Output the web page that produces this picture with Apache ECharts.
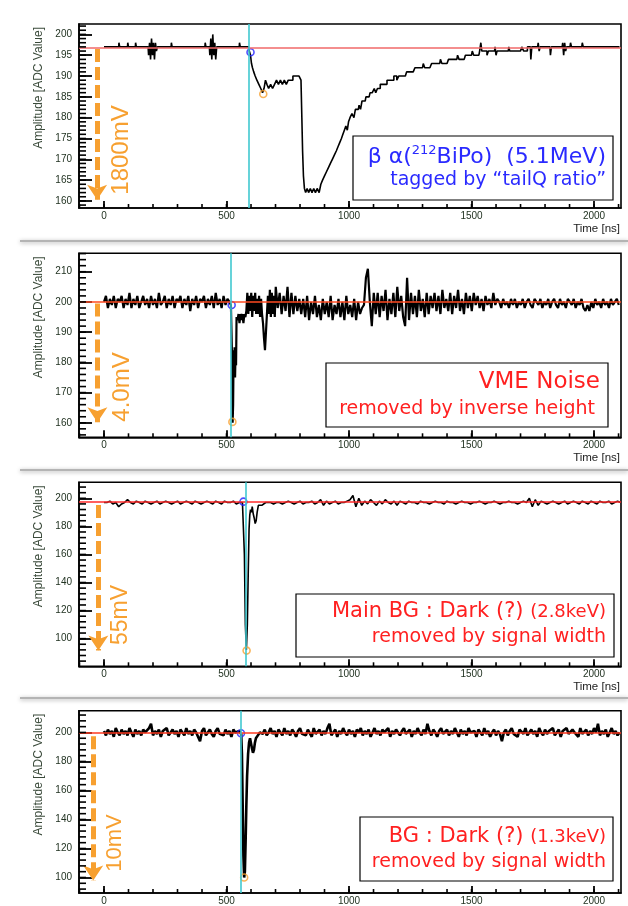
<!DOCTYPE html>
<html><head><meta charset="utf-8">
<script src="https://cdn.jsdelivr.net/npm/echarts@6/dist/echarts.min.js"></script>
<style>html,body{margin:0;padding:0;background:#fff}#c{width:628px;height:906px}</style>
</head><body><div id="c"></div>
<script>
// ---------- axes / ticks ----------
const xMin = -102, xMax = 2110;
const xMajorTicks = [0, 500, 1000, 1500, 2000];
const yRanges = [[158.3, 202.5], [155.2, 216.1], [80.3, 211.4], [89.3, 215]];
const yMajorTicks = [
  [160, 165, 170, 175, 180, 185, 190, 195, 200],
  [160, 170, 180, 190, 200, 210],
  [100, 120, 140, 160, 180, 200],
  [100, 120, 140, 160, 180, 200]
];
const yMinorStep = [1, 2, 4, 4];

// ---------- reference lines / markers ----------
const baseline = [196.7, 200, 197.2, 200];
const triggerTime = [589, 517, 578, 558];
const startMarker = [[598, 195.7], [521, 199], [569, 197.6], [559, 199.5]];
const peakMarker = [[650, 185.7], [524, 160.3], [582, 91.5], [572, 100]];
const arrowTime = [-28, -27, -23, -44];
const arrowFrom = [196.5, 199.5, 195.2, 197.3];
const arrowTo = [160.3, 160.2, 91.5, 98];
const arrowLabel = ['1800mV', '4.0mV', '55mV', '10mV'];

// ---------- waveform 1 (BiPo) ----------
const wave1 = [
[0,197],[60,197],[62,198],[66,197],[96,197],[98,198],[102,197],[128,197],[130,198],[134,197],
[180,197],[184,195],[188,198],[192,194],[196,199],[200,195],[204,198],[208,194],[212,198],[216,196],[220,197],
[274,197],[276,198],[280,197],[412,197],[414,198],[418,197],
[430,197],[434,195],[438,199],[442,194],[446,200],[450,195],[454,198],[458,194],[462,197],
[552,197],[554,198],[558,197],
[590,197],[596,196],[600,195],[604,193],[608,192],[614,191],[620,190],[628,189],[636,188],[644,187],[650,186],[656,187],[662,189],[668,188],[676,187],[684,188],[692,187],[700,188],[708,189],[716,188],[724,189],[732,188],[740,189],[748,188],[756,189],[766,189],[776,190],[790,190],[802,190],[806,189],[809,180],[812,172],[816,166],[820,163],[826,162],[832,163],[838,162],[846,163],[852,162],[860,163],[866,162],[874,163],[882,162],
[888,164],[896,165],[904,166],[912,167],[920,168],[928,169],[936,170],[944,171],[952,172],[958,173],[966,174],[972,175],[978,176],[984,177],[990,178],[996,177],[1000,179],[1008,180],[1016,181],[1024,180],[1028,182],[1038,182],[1044,183],[1050,182],[1056,184],[1066,184],[1072,185],[1082,185],[1090,186],[1100,186],[1106,187],[1112,186],[1120,187],[1135,188],[1150,188],[1160,189],[1176,189],[1190,190],[1200,189],[1206,190],[1230,190],[1240,191],[1262,191],[1276,192],[1300,192],[1306,193],[1312,192],[1330,192],[1344,193],[1370,193],[1376,194],[1382,193],[1400,193],[1412,194],[1440,194],[1446,195],[1452,194],[1470,194],[1480,195],[1500,195],[1506,196],[1512,195],[1530,195],[1536,196],[1540,198],[1544,196],[1560,196],[1566,195],[1572,196],[1594,196],[1598,197],[1602,195],[1606,196],[1650,196],[1654,197],[1658,196],[1700,196],[1710,197],[1716,196],[1740,197],[1744,194],[1748,197],[1770,197],[1774,198],[1778,196],[1782,197],[1820,197],[1824,195],[1828,197],[1870,197],[1874,198],[1878,195],[1882,198],[1886,196],[1890,197],[1902,197],[1906,198],[1910,197],[1950,197],[1954,198],[1958,197],[2104,197]
];

// ---------- waveform 2 (VME noise) ----------
const wave2NoiseAStart = 0, wave2NoiseAStep = 8;
const wave2NoiseA = [
200,202,198,201,199,202,198,201,200,202,198,201,199,203,198,201,199,202,198,200,
202,199,201,198,202,199,201,198,203,199,200,202,198,201,199,202,198,201,200,202,
198,201,199,202,197,201,199,202,198,201,200,202,198,201,199,202,198,203,199,201,
198,202,199,201,200];
const wave2Pulse = [[516,200],[518,199],[521,199],[523,180],[525,160],[527,166],[529,184],[531,176],[533,185],[535,175],[537,184],[539,179],[541,195],[545,194],[549,196],[553,193],[557,196],[561,194],[565,196],[569,193],[573,196],[577,195],[581,197],[585,203],[589,196],[593,202],[597,197],[601,203],[605,195],[609,202],[613,197],[617,203],[621,196],[625,201],[629,196],[633,202],[637,195],[641,201],[645,196],[649,193],[653,188],[657,184],[661,190],[665,196],[669,202],[673,196],[677,204],[681,195],[685,203],[689,196],[693,202],[697,195],[701,205]];
const wave2NoiseBStart = 709, wave2NoiseBStep = 8;
const wave2NoiseB = [
198,203,196,202,197,205,195,203,196,202,197,201,
196,201,195,202,194,200,196,202,195,199,194,201,196,200,195,202,194,199,196,201,195,200,194,202,196,199,195,201,194,200,196,198,
199,208,211,200,192,203,
196,203,195,202,197,204,194,201,196,203,195,205,197,202,195,192,208,194,203,196,202,195,204,197,201,195,203,196,202,
198,203,197,202,196,204,198,201,197,203,196,202,198,204,197,201,196,203,198,202,197,203,
199,202,198,201,197,202,199,201,198,203,199,201,
200,198,201,199,200,198,201,199,201,198,200,199,201,198,200,201,199,198,201,200,199,201,198,200,199,201,198,200,201,199,
198,201,199,200,198,201,200,199,201,198,200,199,201,198,197,199,197,200,198,201,199,200,198,201,199,200,198,201,199,200,201,199];

// ---------- waveform 3 (Main BG dark) ----------
const wave3NoiseAStart = 0, wave3NoiseAStep = 12;
const wave3NoiseA = [197,197,198,196,197,194,196,197,199,197,196,198,197,196,198,197,196,197,198,196,197,198,197,196,197,198,196,197,198,197,196,198,197,196,197,198,197,196,198,197,196,198,197,197,198,196,197];
const wave3Pulse = [[560,197],[565,197],[569,196],[573,160],[577,110],[581,92],[585,110],[589,150],[592,178],[595,188],[598,192],[602,190],[605,194],[609,189],[613,186],[617,182],[621,184],[625,190],[630,195],[636,196],[644,195],[652,196],[660,197]];
const wave3NoiseBStart = 668, wave3NoiseBStep = 12;
const wave3NoiseB = [
196,197,196,197,197,196,197,198,197,196,197,198,196,197,197,198,196,197,199,195,
198,196,197,198,196,197,197,198,199,202,194,200,195,198,196,199,197,195,198,196,
199,197,196,198,195,198,197,196,198,197,197,196,198,197,197,196,197,198,197,197,
196,198,197,197,196,197,198,197,197,196,197,197,198,197,196,197,197,198,197,196,
197,197,198,197,197,196,197,198,197,200,194,199,195,198,197,196,197,198,197,196,
197,198,196,197,198,197,196,198,197,196,198,197,196,198,197,197,198,196,197,198,197];

// ---------- waveform 4 (BG dark) ----------
const wave4NoiseAStart = 0, wave4NoiseAStep = 8;
const wave4NoiseA = [
201,198,202,199,201,197,203,200,198,202,199,201,198,203,200,197,202,199,201,198,
202,200,199,203,206,198,201,199,202,197,201,200,203,198,200,202,199,201,197,202,
200,198,203,199,201,198,202,200,199,194,201,203,198,200,202,199,197,201,203,199,
200,198,202,199,201,197,202,200,199,201];
const wave4Pulse = [[556,200],[560,199],[563,185],[566,150],[569,115],[572,100],[575,104],[578,125],[581,150],[584,170],[588,185],[592,193],[596,196],[600,195],[604,189],[608,186],[612,188],[616,193],[620,196],[624,197],[628,198],[632,199],[636,200]];
const wave4NoiseBStart = 640, wave4NoiseBStep = 8;
const wave4NoiseB = [
201,199,202,198,200,203,199,201,197,202,200,198,203,199,201,198,202,200,197,201,
203,199,200,198,202,201,197,203,199,200,202,198,201,199,203,206,198,200,202,197,
201,199,203,200,198,202,199,201,197,202,200,203,198,201,199,202,197,200,203,199,
201,198,202,200,199,203,197,201,199,202,200,198,201,203,199,200,202,197,201,199,
203,200,198,202,199,206,201,198,202,200,197,201,203,199,200,202,198,201,199,203,
200,197,202,199,201,198,203,200,199,201,197,202,200,198,203,199,201,197,200,202,
198,201,199,194,200,202,198,201,203,199,200,197,202,201,199,203,198,200,202,199,
201,197,203,200,198,202,199,201,200,203,198,199,202,197,201,200,203,199,198,202,
200,201,197,203,199,200,202,198,201,199,203,200,206,198,201,199,202,197,200,203,
199,201,198,200];

// ---------- texts ----------
const legendTexts = [
  {l1: '{a|β α(}{s|212}{a|BiPo)  (5.1MeV)}', l2: 'tagged by “tailQ ratio”', color: '#2a2aff'},
  {l1: '{a|VME Noise}', l2: 'removed by inverse height', color: '#ff2020'},
  {l1: '{a|Main BG : Dark (?)} {b|(2.8keV)}', l2: 'removed by signal width', color: '#ff2020'},
  {l1: '{a|BG : Dark (?)} {b|(1.3keV)}', l2: 'removed by signal width', color: '#ff2020'}
];
const yTitle = 'Amplitude [ADC Value]';
const xTitle = 'Time [ns]';

// ---------- build ----------
function seq(start, step, vals) { return vals.map((v, i) => [start + i * step, v]); }
const waves = [
  wave1,
  seq(wave2NoiseAStart, wave2NoiseAStep, wave2NoiseA).concat(wave2Pulse, seq(wave2NoiseBStart, wave2NoiseBStep, wave2NoiseB)),
  seq(wave3NoiseAStart, wave3NoiseAStep, wave3NoiseA).concat(wave3Pulse, seq(wave3NoiseBStart, wave3NoiseBStep, wave3NoiseB)),
  seq(wave4NoiseAStart, wave4NoiseAStep, wave4NoiseA).concat(wave4Pulse, seq(wave4NoiseBStart, wave4NoiseBStep, wave4NoiseB))
];
const xMinorTicks = []; for (let v = -100; v <= 2100; v += 100) xMinorTicks.push(v);
const yMinorTicks = yRanges.map((r, k) => {
  const out = [];
  for (let v = Math.ceil(r[0] / yMinorStep[k]) * yMinorStep[k]; v <= r[1]; v += yMinorStep[k]) out.push(v);
  return out;
});

// layout (pixels)
const gridTops = [24, 253.3, 482.3, 710.7];
const gridH = 184, gridL = 79, gridW = 542;
const redColors = ['#f06868', '#ff4a20', '#ff2a2a', '#ff3a20'];
const waveWidth = [1.6, 2.2, 1.6, 2.6];
const cyanColor = '#40c8d0';
const orange = '#f7a030';
const tickFont = 'Liberation Sans, Arial, sans-serif';
const labelColor = '#223322';
const fmt = v => String(v);

const grid = [], xAxis = [], yAxis = [], series = [];
for (let k = 0; k < 4; k++) {
  grid.push({left: gridL, top: gridTops[k], width: gridW, height: gridH, show: true,
    borderColor: '#000', borderWidth: 1.6});
  xAxis.push({type: 'value', gridIndex: k, min: xMin, max: xMax, splitLine: {show: false},
    axisLine: {show: true, onZero: false, lineStyle: {color: '#000', width: 1.6}},
    axisTick: {show: true, inside: true, length: 7, customValues: xMajorTicks, lineStyle: {color: '#000', width: 1.8}},
    axisLabel: {customValues: xMajorTicks, formatter: fmt, fontSize: 10, fontFamily: tickFont, color: labelColor, margin: 3}});
  yAxis.push({type: 'value', gridIndex: k, min: yRanges[k][0], max: yRanges[k][1], splitLine: {show: false},
    axisLine: {show: true, onZero: false, lineStyle: {color: '#000', width: 1.6}},
    axisTick: {show: true, inside: true, length: 13, customValues: yMajorTicks[k], lineStyle: {color: '#000', width: 1.8}},
    axisLabel: {customValues: yMajorTicks[k], formatter: fmt, fontSize: 10, fontFamily: tickFont, color: labelColor, margin: 7}});
  series.push({type: 'line', xAxisIndex: k, yAxisIndex: k, data: [], z: 1, silent: true,
    markLine: {silent: true, symbol: 'none', animation: false, label: {show: false},
      data: [
        {yAxis: baseline[k], lineStyle: {color: redColors[k], width: 1.6, type: 'solid'}},
        {xAxis: triggerTime[k], lineStyle: {color: cyanColor, width: 1.6, type: 'solid'}}
      ]}});
  series.push({type: 'line', xAxisIndex: k, yAxisIndex: k, data: waves[k], z: 2,
    showSymbol: false, symbol: 'none', step: k === 0 ? 'middle' : false,
    lineStyle: {color: '#000', width: waveWidth[k]}, clip: true, silent: true});
  series.push({type: 'line', xAxisIndex: k, yAxisIndex: k, data: [], z: 3, silent: true,
    markLine: {silent: true, symbol: ['none', 'arrow'], symbolSize: 15, animation: false, label: {show: false},
      lineStyle: {color: orange, width: 5, type: [13, 5]},
      data: [[{coord: [arrowTime[k], arrowFrom[k]]}, {coord: [arrowTime[k], arrowTo[k]]}]]}});
  series.push({type: 'scatter', xAxisIndex: k, yAxisIndex: k, z: 4, silent: true,
    data: [{value: startMarker[k], itemStyle: {borderColor: '#2020ff'}}, {value: peakMarker[k], itemStyle: {borderColor: orange}}],
    symbol: 'circle', symbolSize: 7, itemStyle: {color: 'rgba(0,0,0,0)', borderWidth: 1.6}});
}

// decorations
const graphic = [];
const sepY = [241, 470, 698];
sepY.forEach(y => graphic.push({type: 'line', z: 50, shape: {x1: 20, y1: y, x2: 628, y2: y},
  style: {stroke: '#b4b4b4', lineWidth: 2, shadowBlur: 4, shadowColor: 'rgba(0,0,0,0.35)', shadowOffsetY: 1}}));
const xTitleY = [229, 458, 687, 916];
const arrowTextPos = [[121, 150, 24], [122.5, 387, 24], [121, 615, 23], [115, 843, 22]];
const boxes = [[353, 136, 260, 64], [326, 363, 282, 64], [296, 594, 318, 63], [360, 817, 253, 64]];
const l1Pos = [[606, 157.5], [600, 382], [606, 612], [606, 837]];
const l2Pos = [[606, 180], [595, 409], [606, 637], [606, 862]];
const legFont = 'DejaVu Sans, sans-serif';
for (let k = 0; k < 4; k++) {
  graphic.push({type: 'text', z: 60, x: 39, y: gridTops[k] + 3, rotation: Math.PI / 2,
    style: {text: yTitle, fill: '#3a4a3a', fontSize: 12, fontFamily: tickFont, align: 'right', verticalAlign: 'middle', textAlign: 'right', textVerticalAlign: 'middle'}});
  graphic.push({type: 'text', z: 60, x: 620, y: xTitleY[k],
    style: {text: xTitle, fill: '#222', fontSize: 11.5, fontFamily: tickFont, align: 'right', verticalAlign: 'middle', textAlign: 'right', textVerticalAlign: 'middle'}});
  graphic.push({type: 'text', z: 60, x: arrowTextPos[k][0], y: arrowTextPos[k][1], rotation: Math.PI / 2,
    style: {text: arrowLabel[k], fill: orange, fontSize: arrowTextPos[k][2], fontFamily: tickFont, align: 'center', verticalAlign: 'middle', textAlign: 'center', textVerticalAlign: 'middle'}});
  const b = boxes[k];
  graphic.push({type: 'rect', z: 60, shape: {x: b[0], y: b[1], width: b[2], height: b[3]},
    style: {fill: '#fff', stroke: '#000', lineWidth: 1.2}});
  const c = legendTexts[k].color;
  graphic.push({type: 'text', z: 61, x: l1Pos[k][0], y: l1Pos[k][1],
    style: {text: legendTexts[k].l1, fill: c, fontSize: 21, fontFamily: legFont, align: 'right', verticalAlign: 'middle', textAlign: 'right', textVerticalAlign: 'middle',
      rich: {a: {fill: c, fontSize: k === 1 ? 23 : (k === 0 ? 22 : 21), fontFamily: legFont, lineHeight: 26},
             b: {fill: c, fontSize: 18, fontFamily: legFont, lineHeight: 26},
             s: {fill: c, fontSize: 13, fontFamily: legFont, lineHeight: 14, verticalAlign: 'top'}}}});
  graphic.push({type: 'text', z: 61, x: l2Pos[k][0], y: l2Pos[k][1],
    style: {text: legendTexts[k].l2, fill: c, fontSize: 19, fontFamily: legFont, align: 'right', verticalAlign: 'middle', textAlign: 'right', textVerticalAlign: 'middle'}});
}

const chart = echarts.init(document.getElementById('c'));
chart.setOption({animation: false, backgroundColor: '#fff', grid, xAxis, yAxis, series, graphic});

// minor ticks (ROOT style, inward), positioned through the axis scales
const tickGraphics = [];
function addTick(k, x, y, dx, dy) {
  const p = chart.convertToPixel({gridIndex: k}, [x, y]);
  if (!p || isNaN(p[0]) || isNaN(p[1])) return;
  tickGraphics.push({type: 'line', z: 40, silent: true,
    shape: {x1: p[0], y1: p[1], x2: p[0] + dx, y2: p[1] + dy}, style: {stroke: '#000', lineWidth: 1.6}});
}
for (let k = 0; k < 4; k++) {
  yMinorTicks[k].forEach(v => addTick(k, xMin, v, 7, 0));
  xMinorTicks.forEach(v => addTick(k, v, yRanges[k][0], 0, -4));
}
chart.setOption({graphic: graphic.concat(tickGraphics)});
</script></body></html>
